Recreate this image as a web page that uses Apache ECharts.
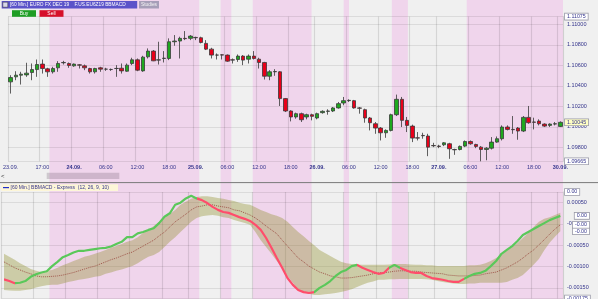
<!DOCTYPE html>
<html><head><meta charset="utf-8">
<script src="https://cdn.jsdelivr.net/npm/echarts@6/dist/echarts.min.js"></script>
<style>html,body{margin:0;padding:0;background:#f0f0f0}#c{width:598px;height:299px}</style>
</head><body><div id="c"></div>
<script>
// ---- categories (60 min bars) ----
const days = ['23.09.','24.09.','25.09.','26.09.','27.09.','30.09.'];
const dayFirstHour = [11,0,0,0,0,0];
const dayLastHour = [22,22,22,22,22,0];
// ---- x tick labels ----
const tickIndex = [0,6,12,18,24,30,35,41,47,53,58,64,70,76,81,87,93,99,104];
const tickText = ['23.09.','17:00','24.09.','06:00','12:00','18:00','25.09.','06:00','12:00','18:00','26.09.','06:00','12:00','18:00','27.09.','06:00','12:00','18:00','30.09.'];
// ---- shaded sessions (bar index ranges) ----
const bandStart = [9,41,47,64,73,87];
const bandEnd   = [36,42,57,64,75,104];
// ---- OHLC ----
const open = [1.10439,1.10488,1.10504,1.10507,1.10530,1.10559,1.10612,1.10566,1.10537,1.10576,
1.10625,1.10618,1.10595,1.10605,1.10595,1.10569,1.10537,1.10576,1.10563,1.10560,
1.10569,1.10572,1.10543,1.10618,1.10654,1.10546,1.10683,1.10739,1.10651,1.10667,
1.10667,1.10830,1.10837,1.10863,1.10863,1.10872,1.10869,1.10814,1.10758,1.10700,
1.10703,1.10700,1.10654,1.10657,1.10690,1.10660,1.10690,1.10660,1.10628,1.10494,
1.10537,1.10537,1.10276,1.10155,1.10097,1.10129,1.10097,1.10119,1.10087,1.10139,
1.10152,1.10155,1.10185,1.10233,1.10256,1.10256,1.10185,1.10168,1.10087,1.10031,
1.09989,1.09943,1.09966,1.10119,1.10269,1.10064,1.10008,1.09894,1.09917,1.09911,
1.09819,1.09813,1.09826,1.09836,1.09780,1.09780,1.09813,1.09858,1.09829,1.09803,
1.09780,1.09793,1.09852,1.09885,1.09999,1.09976,1.09989,1.09960,1.10093,1.10048,
1.10057,1.10028,1.10015,1.10028,1.10005];
const close = [1.10481,1.10504,1.10514,1.10524,1.10559,1.10608,1.10569,1.10537,1.10569,1.10618,
1.10628,1.10599,1.10612,1.10602,1.10576,1.10537,1.10569,1.10563,1.10563,1.10559,
1.10570,1.10546,1.10602,1.10654,1.10553,1.10680,1.10739,1.10644,1.10654,1.10670,
1.10830,1.10837,1.10863,1.10860,1.10885,1.10869,1.10823,1.10758,1.10700,1.10700,
1.10700,1.10641,1.10651,1.10690,1.10651,1.10690,1.10667,1.10628,1.10494,1.10537,
1.10540,1.10276,1.10155,1.10097,1.10129,1.10070,1.10119,1.10103,1.10129,1.10152,
1.10155,1.10185,1.10227,1.10256,1.10259,1.10185,1.10182,1.10087,1.10041,1.09989,
1.09943,1.09966,1.10119,1.10269,1.10064,1.10015,1.09891,1.09891,1.09914,1.09803,
1.09816,1.09810,1.09845,1.09787,1.09777,1.09810,1.09858,1.09836,1.09810,1.09780,
1.09793,1.09852,1.09885,1.09999,1.09976,1.09973,1.09960,1.10093,1.10041,1.10045,
1.10031,1.10008,1.10028,1.10031,1.10045];
const low = [1.10325,1.10455,1.10413,1.10488,1.10455,1.10488,1.10520,1.10488,1.10520,1.10537,
1.10608,1.10576,1.10586,1.10569,1.10553,1.10520,1.10520,1.10537,1.10546,1.10546,
1.10488,1.10520,1.10537,1.10602,1.10543,1.10537,1.10667,1.10641,1.10608,1.10628,
1.10651,1.10791,1.10667,1.10846,1.10846,1.10846,1.10814,1.10749,1.10667,1.10657,
1.10657,1.10634,1.10618,1.10634,1.10602,1.10618,1.10657,1.10569,1.10462,1.10455,
1.10498,1.10204,1.10145,1.10054,1.10080,1.10048,1.10074,1.10064,1.10074,1.10129,
1.10119,1.10145,1.10178,1.10211,1.10243,1.10178,1.10129,1.10041,1.09966,1.09933,
1.09868,1.09894,1.09956,1.10106,1.09999,1.09950,1.09852,1.09868,1.09885,1.09715,
1.09803,1.09793,1.09813,1.09689,1.09728,1.09771,1.09803,1.09826,1.09793,1.09665,
1.09675,1.09780,1.09845,1.09868,1.09966,1.09933,1.09875,1.09950,1.10031,1.09976,
1.10015,1.09999,1.09999,1.10015,1.09999];
const high = [1.10504,1.10543,1.10537,1.10625,1.10618,1.10657,1.10657,1.10576,1.10586,1.10641,
1.10644,1.10628,1.10618,1.10612,1.10608,1.10576,1.10576,1.10586,1.10576,1.10569,
1.10602,1.10618,1.10618,1.10674,1.10667,1.10693,1.10765,1.10749,1.10830,1.10739,
1.10863,1.10895,1.10879,1.10934,1.10895,1.10879,1.10879,1.10846,1.10771,1.10716,
1.10709,1.10706,1.10667,1.10706,1.10700,1.10706,1.10739,1.10674,1.10634,1.10553,
1.10563,1.10543,1.10282,1.10162,1.10139,1.10139,1.10129,1.10129,1.10139,1.10162,
1.10172,1.10194,1.10243,1.10292,1.10269,1.10263,1.10194,1.10178,1.10097,1.10048,
1.09999,1.09976,1.10129,1.10315,1.10292,1.10097,1.10022,1.09950,1.09943,1.09933,
1.09845,1.09826,1.09852,1.09845,1.09787,1.09819,1.09868,1.09868,1.09836,1.09813,
1.09803,1.09901,1.09907,1.10015,1.10015,1.10106,1.09999,1.10106,1.10204,1.10090,
1.10074,1.10035,1.10035,1.10048,1.10054];
const priceAxisMin = 1.09665, priceAxisMax = 1.11075;
// ---- BBMACD (values in 1e-5) ----
const macd = [-130,-134,-139,-138,-134,-124,-118,-114,-111,-99,
-89,-78,-73,-67,-63,-63,-61,-59,-57,-56,
-53,-47,-42,-31,-31,-22,-19,-14,-10,2,
17,25,45,50,60,66,60,56,49,40,
33,28,26,21,16,12,7,-2,-14,-33,
-56,-80,-103,-127,-143,-155,-160,-162,-160,-150,
-143,-134,-122,-113,-108,-99,-96,-103,-108,-113,
-117,-115,-103,-96,-103,-108,-113,-115,-115,-122,
-127,-129,-131,-134,-136,-136,-129,-122,-117,-115,
-110,-99,-87,-70,-61,-52,-40,-26,-19,-12,
-5,2,9,14,19];
const macdColor = 'rrggggggggggggggggggggggggggggggggggrrrrrrrrrrrrrrrrrrrrrrggggggggrrrrrrggrrrrrrrrrrrrggggggggggggggggggg';
const signal = [-89,-96,-103,-108,-113,-117,-122,-124,-124,-123,
-122,-120,-117,-114,-110,-106,-102,-99,-94,-89,
-84,-80,-75,-70,-66,-59,-52,-45,-38,-28,
-19,-7,5,14,23,33,40,42,45,45,
42,40,38,33,31,26,21,14,5,-5,
-14,-23,-38,-52,-66,-80,-89,-99,-106,-113,
-117,-122,-124,-127,-127,-126,-124,-122,-120,-117,
-115,-114,-113,-111,-110,-110,-111,-111,-113,-114,
-115,-116,-117,-120,-121,-122,-122,-122,-121,-120,
-117,-115,-113,-108,-103,-96,-89,-80,-70,-61,
-49,-37,-24,-12,-2];
const upper = [-70,-77,-84,-92,-99,-106,-110,-113,-110,-108,
-103,-97,-92,-87,-82,-77,-74,-70,-66,-61,
-56,-52,-47,-42,-38,-31,-21,-14,-5,5,
14,23,33,45,52,59,63,65,65,63,
61,59,56,54,50,47,45,39,33,28,
23,19,14,5,-7,-19,-29,-40,-50,-61,
-68,-75,-82,-89,-92,-94,-95,-96,-96,-96,
-96,-96,-95,-94,-94,-94,-95,-96,-96,-97,
-97,-99,-99,-99,-99,-99,-99,-97,-97,-96,
-92,-87,-80,-73,-63,-54,-45,-33,-21,-7,
5,12,16,21,26];
const lower = [-155,-156,-157,-157,-155,-153,-149,-146,-144,-143,
-143,-140,-136,-134,-131,-129,-127,-124,-122,-117,
-114,-110,-107,-103,-99,-92,-84,-77,-73,-66,
-54,-42,-31,-19,-7,5,14,18,20,21,
19,16,14,9,6,2,-2,-19,-38,-54,
-70,-87,-103,-122,-138,-155,-160,-164,-167,-167,
-165,-164,-162,-160,-157,-153,-148,-143,-138,-135,
-131,-131,-130,-130,-129,-129,-129,-129,-129,-130,
-131,-134,-136,-138,-140,-141,-141,-140,-140,-138,
-138,-138,-138,-138,-136,-131,-127,-120,-108,-96,
-82,-62,-44,-30,-17];
const indAxisMin = -0.00175, indAxisMax = 0.00075;

// ---------- build ----------
const categories = [];
days.forEach((d,k)=>{for(let h=dayFirstHour[k];h<=dayLastHour[k];h++) categories.push(d+' '+String(h).padStart(2,'0')+':00');});
const N = categories.length;
const E5 = v => +(v/1e5).toFixed(6);
const macdV = macd.map(E5), sigV = signal.map(E5), upV = upper.map(E5), loV = lower.map(E5);
const widthV = upV.map((u,i)=>+(u-loV[i]).toFixed(6));
const ohlc = open.map((o,i)=>[o, close[i], low[i], high[i]]);
const tickSet = new Map(tickIndex.map((t,k)=>[t,tickText[k]]));
const isTick = (idx)=>tickSet.has(idx);

const GREEN='#5ac85a', RED='#ff4d6b';
const pieces=[]; let s0=0;
for(let i=1;i<=N;i++){ if(i===N||macdColor[i]!==macdColor[s0]){ pieces.push({gte:s0-0.5, lt:i-0.5, color: macdColor[s0]==='g'?GREEN:RED}); s0=i; } }

const FONT = 'Liberation Sans, Arial, sans-serif';
const AX = '#34348c';
const GL = 'rgba(0,0,0,0.085)';
const GR = {left:1.3, right:35};

// value boxes on the right axis
const priceBoxes = [
  {v:priceAxisMax, t:priceAxisMax.toFixed(5), bg:'#ffffff', dx:2, al:'left'},
  {v:close[N-1], t:close[N-1].toFixed(5), bg:'#ffffc4', dx:2, al:'left'},
  {v:priceAxisMin, t:priceAxisMin.toFixed(5), bg:'#ffffff', dx:2, al:'left'}
];
const indBoxes = [
  {v:indAxisMax, t:indAxisMax.toFixed(2), bg:'#ffffff', dx:2, al:'left'},
  {v:indAxisMin, t:indAxisMin.toFixed(5), bg:'#ffffff', dx:2, al:'left'},
  {v:loV[N-1], t:loV[N-1].toFixed(2), bg:'#ffffff', dx:26, al:'right'},
  {v:sigV[N-1], t:sigV[N-1].toFixed(2), bg:'#ffffff', dx:26, al:'right'},
  {v:macdV[N-1], t:macdV[N-1].toFixed(2), bg:'#ffffff', dx:26, al:'right'}
];
const mkBoxes = (items, xi, yi) => ({
  type:'custom', xAxisIndex:xi, yAxisIndex:yi, clip:false, silent:true, z:30,
  data: items.map(b=>[N-1, b.v]),
  renderItem:(params, api)=>{
    const b = items[params.dataIndex];
    const p = api.coord([api.value(0), api.value(1)]);
    const cs = params.coordSys;
    return {type:'text', x: cs.x + cs.width + b.dx, y: p[1], z2:10,
      style:{text:b.t, fill:AX, fontSize:5.3, fontFamily:FONT, backgroundColor:b.bg, borderColor:'#9a9aa8', borderWidth:0.8,
        padding:[1,2,0,2], align:b.al, verticalAlign:'middle'}};
  }
});

const option = {
  backgroundColor:'#f0f0f0',
  animation:false,
  grid:[
    {left:GR.left, right:GR.right, top:0, bottom:0},
    {left:GR.left, right:GR.right, top:16.6, height:144.7},
    {left:GR.left, right:GR.right, top:192, height:106.5}
  ],
  xAxis:[
    {gridIndex:0, type:'value', min:-0.5, max:N-0.5, show:false},
    {gridIndex:1, type:'category', data:categories, boundaryGap:true,
      axisLine:{show:false}, axisTick:{show:false},
      axisLabel:{interval:(i)=>isTick(i), fontSize:5.5, fontFamily:FONT, color:AX, margin:3,
        formatter:(v,i)=>{const t=tickSet.get(i)||''; return (t.indexOf('.')>0 && i>0)?'{b|'+t+'}':t;},
        rich:{b:{fontWeight:'bold', fontSize:5.5, fontFamily:FONT, color:AX}}},
      splitLine:{show:true, interval:(i)=>isTick(i), lineStyle:{color:'rgba(0,0,0,0.11)', width:1.2}}},
    {gridIndex:2, type:'category', data:categories, boundaryGap:true,
      axisLine:{show:false}, axisTick:{show:false}, axisLabel:{show:false},
      splitLine:{show:true, interval:(i)=>isTick(i), lineStyle:{color:'rgba(0,0,0,0.11)', width:1.2}}}
  ],
  yAxis:[
    {gridIndex:0, type:'value', min:0, max:1, show:false},
    {gridIndex:1, type:'value', position:'right', min:priceAxisMin, max:priceAxisMax, splitNumber:7, scale:true,
      axisLine:{show:true, lineStyle:{color:'#cfcfcf'}}, axisTick:{show:false},
      axisLabel:{showMinLabel:false, showMaxLabel:false, fontSize:5.5, fontFamily:FONT, color:AX, margin:4, formatter:v=>v.toFixed(5)},
      splitLine:{show:true, lineStyle:{color:GL}}},
    {gridIndex:2, type:'value', position:'right', min:indAxisMin, max:indAxisMax, splitNumber:5,
      axisLine:{show:true, lineStyle:{color:'#cfcfcf'}}, axisTick:{show:false},
      axisLabel:{showMinLabel:false, showMaxLabel:false, fontSize:5.5, fontFamily:FONT, color:AX, margin:4,
        formatter:v=>Math.abs(v)<1e-9?'-0.00000':v.toFixed(5)},
      splitLine:{show:true, lineStyle:{color:GL}}}
  ],
  visualMap:[{show:false, type:'piecewise', seriesIndex:5, dimension:0, pieces}],
  series:[
    {type:'custom', xAxisIndex:0, yAxisIndex:0, z:-5, silent:true,
      data: bandStart.map((s,k)=>[s, bandEnd[k]]),
      renderItem:(params, api)=>{
        const a = api.coord([api.value(0)-0.5, 0]);
        const b = api.coord([api.value(1)+0.5, 0]);
        const cs = params.coordSys;
        return {type:'rect', shape:{x:a[0], y:cs.y, width:b[0]-a[0], height:cs.height}, style:{fill:'#f0d5ec'}};
      }},
    {type:'candlestick', xAxisIndex:1, yAxisIndex:1, data:ohlc, barWidth:4,
      itemStyle:{color:'#1fa81f', color0:'#e8001a', borderColor:'#3a3a3a', borderColor0:'#3a3a3a', borderWidth:0.8}},
    {type:'line', xAxisIndex:2, yAxisIndex:2, data:loV, stack:'bb', stackStrategy:'all', symbol:'none', lineStyle:{opacity:0}, silent:true},
    {type:'line', xAxisIndex:2, yAxisIndex:2, data:widthV, stack:'bb', stackStrategy:'all', symbol:'none', lineStyle:{opacity:0},
      areaStyle:{color:'rgba(140,140,40,0.36)', opacity:1}, silent:true},
    {type:'line', xAxisIndex:2, yAxisIndex:2, data:sigV, symbol:'none', lineStyle:{color:'#a0584c', width:1, type:'dotted'}, silent:true},
    {type:'line', xAxisIndex:2, yAxisIndex:2, data:macdV, symbol:'circle', symbolSize:4.5, showSymbol:true,
      lineStyle:{width:2.2}, itemStyle:{borderWidth:0}, silent:true, z:4},
    mkBoxes(priceBoxes, 1, 1),
    mkBoxes(indBoxes, 2, 2)
  ],
  graphic:[
    {type:'line', shape:{x1:0,y1:182.6,x2:598,y2:182.6}, style:{stroke:'#7a7a7a', lineWidth:1}, z:50},
    {type:'rect', shape:{x:46.7,y:172.8,width:72.6,height:6.2}, style:{fill:'rgba(120,100,120,0.28)'}, z:50},
    {type:'text', x:1, y:173.5, style:{text:'<', fontSize:6, fontFamily:FONT, fill:'#333'}, z:50},
    {type:'rect', shape:{x:1.7,y:1,width:135.5,height:7.5}, style:{fill:'#5b53c9'}, z:50},
    {type:'rect', shape:{x:2.8,y:2.2,width:5,height:5}, style:{fill:'#d8d8e8', stroke:'#333', lineWidth:0.5}, z:51},
    {type:'text', x:10, y:2.4, style:{text:'[60 Min.] EURO FX DEC 19    F.US.EU6Z19 BBMACD', fontSize:4.8, fontFamily:FONT, fill:'#ffffff'}, z:51},
    {type:'rect', shape:{x:139,y:1,width:20,height:7.5}, style:{fill:'#a69eb8'}, z:50},
    {type:'text', x:149, y:2.4, style:{text:'Studies', fontSize:4.8, fontFamily:FONT, fill:'#f4f4f4', textAlign:'center'}, z:51},
    {type:'rect', shape:{x:12,y:10.2,width:24,height:6.6}, style:{fill:'#1e9e24'}, z:50},
    {type:'text', x:24, y:11.2, style:{text:'Buy', fontSize:5, fontFamily:FONT, fill:'#ffffff', textAlign:'center'}, z:51},
    {type:'rect', shape:{x:39.5,y:10.2,width:24,height:6.6}, style:{fill:'#d6102a'}, z:50},
    {type:'text', x:51.5, y:11.2, style:{text:'Sell', fontSize:5, fontFamily:FONT, fill:'#ffffff', textAlign:'center'}, z:51},
    {type:'rect', shape:{x:1.5,y:184.3,width:116.5,height:6.6}, style:{fill:'#fdf6d8'}, z:50},
    {type:'line', shape:{x1:3,y1:187.6,x2:9,y2:187.6}, style:{stroke:'#2030c8', lineWidth:1.2}, z:51},
    {type:'text', x:10.5, y:185.2, style:{text:'[60 Min.] BBMACD - Express  (12, 26, 9, 10)', fontSize:5, fontFamily:FONT, fill:AX}, z:51}
  ]
};
const chart = echarts.init(document.getElementById('c'), null, {renderer:'canvas'});
chart.setOption(option);
</script></body></html>
